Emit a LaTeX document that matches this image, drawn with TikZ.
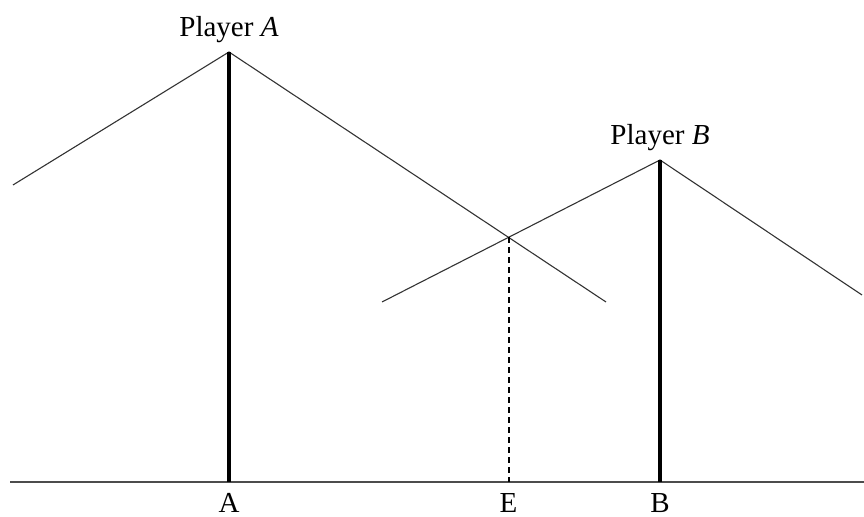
\documentclass[tikz,border=0pt]{standalone}
\usepackage{fontspec}
\setmainfont{Liberation Serif}
\usepackage{tikz}

\tikzset{
  slope/.style={draw=black!80, line width=0.55pt},
  player/.style={line width=2pt},
  ground/.style={draw=black!70, line width=1pt},
  tag/.style={font=\fontsize{14.5}{16}\selectfont, inner sep=1pt}
}

\begin{document}
\begin{tikzpicture}[x=0.5pt, y=0.5pt]
\useasboundingbox (0,0) rectangle (864,517);
% points
\coordinate (gl) at (10,35);
\coordinate (gr) at (864,35);
\coordinate (pA) at (229,465);
\coordinate (fA) at (229,35);
\coordinate (aL) at (13,332);
\coordinate (aR) at (606,215);
\coordinate (pB) at (660,357);
\coordinate (fB) at (660,35);
\coordinate (bL) at (382,215);
\coordinate (bR) at (862,222);
\coordinate (e) at (intersection of pA--aR and bL--pB);
\coordinate (fE) at (e |- gl);
% ground
\draw[ground] (gl) -- (gr);
% player A
\draw[slope] (aL) -- (pA) -- (aR);
\draw[player] (pA) -- (fA);
% player B
\draw[slope] (bL) -- (pB) -- (bR);
\draw[player] (pB) -- (fB);
% meeting point
\draw[line width=1pt, dash pattern=on 3pt off 2pt] (e) -- (fE);
% labels
\node[tag, anchor=base] (nameA) at (229,480) {Player \textit{A}};
\node[tag, anchor=base] (nameB) at (660,372) {Player \textit{B}};
\node[tag, anchor=base] (labA) at (229,4) {A};
\node[tag, anchor=base] (labE) at (e |- 0,4) {E};
\node[tag, anchor=base] (labB) at (660,4) {B};
\end{tikzpicture}
\end{document}
